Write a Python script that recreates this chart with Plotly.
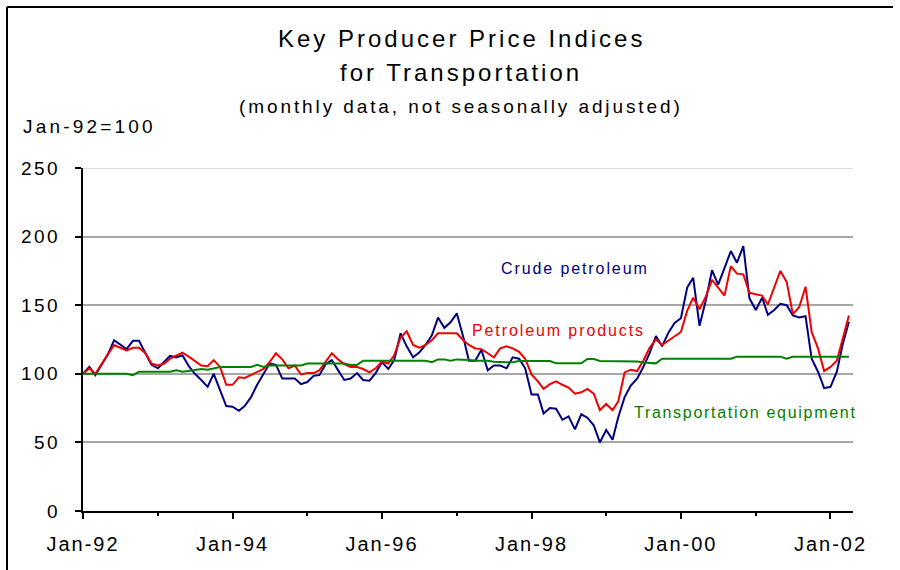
import pandas as pd
import plotly.graph_objects as go

# ---- data (index, Jan-92 = 100) ----
months = pd.date_range("1992-01-01", periods=124, freq="MS")

crude_petroleum = [
    100, 105, 99, 107, 114, 124.5, 121, 118, 124, 124, 115, 106.5,
    104, 109, 113, 112, 113.5, 105.5, 100, 95.5, 90.5, 100, 88, 76.5,
    76, 73, 76.5, 83, 92, 100, 107.5, 106.5, 96.5, 96.5, 96.5, 92.5,
    94, 98.5, 99, 107, 110, 102.5, 95.5, 96.5, 100.5, 95.5, 95, 100.5,
    108.5, 103.5, 110, 129.5, 120, 112, 115.5, 121, 128, 141, 133.5, 137.5,
    144, 127, 109.5, 109.5, 117.5, 102.5, 106, 106, 104, 112, 111, 104,
    85, 85, 71, 75, 74.5, 66.5, 69, 59.5, 70.5, 68, 62.5, 50,
    59, 52, 68.5, 83, 91.5, 96.5, 105, 115, 127.5, 120, 130, 137,
    140.5, 163, 170, 135, 153, 175.5, 165, 177, 189.5, 181, 193, 155,
    146.5, 155.5, 143, 146.5, 151, 150, 142.5, 141, 142, 111, 101.5, 89.5,
    90.5, 101.5, 121, 138,
]

petroleum_products = [
    100, 104, 100, 107, 113.5, 121, 119, 117, 119, 119, 115, 107.5,
    106, 107.5, 111, 113, 115.5, 112.5, 109.5, 106, 105.5, 110, 105, 92,
    92, 97.5, 97, 99, 101, 103.5, 108.5, 115, 110.5, 104, 106, 99.5,
    100.5, 100.5, 102.5, 108.5, 115, 110.5, 107, 105, 105, 103.5, 101, 104,
    109, 107.5, 113.5, 126.5, 131, 121, 119, 121, 124.5, 129.5, 129.5, 129.5,
    129.5, 124.5, 121, 118.5, 118, 115, 112, 118.5, 120, 118.5, 116, 111,
    99.5, 94.5, 89, 92.5, 94.5, 92, 90, 85.5, 86.5, 89, 85.5, 73.5,
    78, 73.5, 80, 101, 103, 102, 109.5, 119, 125, 121, 124, 127,
    130.5, 146, 155.5, 147, 156, 168.5, 163, 157, 178.5, 173, 172.5, 159,
    158, 157, 150.5, 163.5, 175, 167, 143.5, 148.5, 163.5, 130.5, 118.5, 102,
    105, 109.5, 126, 142.5,
]

transportation_equipment = [
    100, 100, 100, 100, 100, 100, 100, 100, 99, 101.5, 101.5, 101.5,
    101.5, 101.5, 101.5, 102.5, 101.5, 102, 102.5, 103.5, 103, 104, 105, 105,
    105, 105, 105, 105, 106.5, 105, 106, 106, 105.5, 105.5, 106, 106,
    107.5, 107.5, 107.5, 107.5, 107.5, 107.5, 107.5, 106.5, 106.5, 109.5, 109.5, 109.5,
    109.5, 109.5, 109.5, 109.5, 109.5, 109.5, 109.5, 109.5, 108.5, 110.5, 110.5, 109.5,
    110.5, 110.5, 110, 109.5, 109.5, 109.5, 108.8, 108.5, 108.5, 108.5, 109.3, 109.3,
    109.3, 109.3, 109.3, 109.3, 107.6, 107.6, 107.6, 107.6, 107.6, 110.8, 110.8, 109.3,
    109.3, 109.3, 109.3, 109.3, 109.3, 109, 108.3, 107.8, 107.6, 111, 111, 111,
    111, 111, 111, 111, 111, 111, 111, 111, 111, 112.5, 112.5, 112.5,
    112.5, 112.5, 112.5, 112.5, 112.5, 111, 112.5, 112.5, 112.5, 112.5, 112.5, 112.5,
    112.5, 112.5, 112.5, 112.5,
]

series_names = ["Crude petroleum", "Petroleum products", "Transportation equipment"]
series_colors = ["#000080", "#f00000", "#008000"]

y_tick_values = [0, 50, 100, 150, 200, 250]
x_tick_dates = ["1992-01-01", "1994-01-01", "1996-01-01",
                "1998-01-01", "2000-01-01", "2002-01-01"]
x_tick_labels = ["Jan-92", "Jan-94", "Jan-96", "Jan-98", "Jan-00", "Jan-02"]

title_lines = ["Key Producer Price Indices", "for Transportation",
               "(monthly data, not seasonally adjusted)"]
base_note = "Jan-92=100"

# ---- layout geometry (pixels) ----
W, H = 900, 570
PL, PR, PT, PB = 83, 853, 168, 511
FONT = "Liberation Sans, Arial, sans-serif"
X_RANGE = ["1992-01-01", "2002-04-21"]


def px_x(px):
    return (px - PL) / (PR - PL)


def px_y(py):
    return (PB - py) / (PB - PT)


def spaced(text, ls):
    return f'<span style="letter-spacing:{ls}px">{text}</span>'


fig = go.Figure()

for name, vals, col in zip(series_names,
                           [crude_petroleum, petroleum_products, transportation_equipment],
                           series_colors):
    fig.add_trace(go.Scatter(
        x=months, y=vals, mode="lines", name=name,
        line=dict(color=col, width=2), showlegend=False, hoverinfo="skip",
    ))

annotations = []


def note(text, x, y, size, ls, color="black", xanchor="center"):
    annotations.append(dict(
        text=spaced(text, ls), x=px_x(x), y=px_y(y), xref="paper", yref="paper",
        xanchor=xanchor, yanchor="middle", showarrow=False,
        font=dict(family=FONT, size=size, color=color),
    ))


note(title_lines[0], 461.5, 38.5, 24, 3)
note(title_lines[1], 460.5, 72, 24, 3)
note(title_lines[2], 460.5, 106.5, 19, 2.9)
note(base_note, 21, 126.5, 19, 3.2, xanchor="left")

note(series_names[0], 575.3, 268.4, 16, 1.9, series_colors[0])
note(series_names[1], 558.3, 330.4, 16, 1.9, series_colors[1])
note(series_names[2], 745.5, 412.7, 16, 1.7, series_colors[2])

shapes = [
    # lighter top gridline
    dict(type="line", xref="paper", yref="y", x0=0, x1=1, y0=250, y1=250,
         line=dict(color="#dcdcdc", width=2), layer="above"),
    # outer frame
    dict(type="line", xref="paper", yref="paper", x0=px_x(7), x1=px_x(893),
         y0=px_y(7), y1=px_y(7), line=dict(color="black", width=2)),
    dict(type="line", xref="paper", yref="paper", x0=px_x(7), x1=px_x(7),
         y0=px_y(7), y1=px_y(575), line=dict(color="black", width=2)),
]

fig.update_layout(
    width=W, height=H,
    margin=dict(l=PL, r=W - PR, t=PT, b=H - PB, pad=0),
    paper_bgcolor="white", plot_bgcolor="white",
    font=dict(family=FONT, color="black"),
    annotations=annotations, shapes=shapes,
    xaxis=dict(
        type="date", range=X_RANGE,
        tickvals=x_tick_dates, ticktext=[spaced(t, 2) for t in x_tick_labels],
        ticks="outside", ticklen=6, tickwidth=1.5, tickcolor="black",
        minor=dict(ticks="outside", ticklen=3, tickwidth=1.5, tickcolor="black",
                   dtick="M12", tick0="1993-01-01", showgrid=False),
        showline=True, linecolor="black", linewidth=2,
        showgrid=False, zeroline=False,
        tickfont=dict(family=FONT, size=20, color="black"),
        ticklabelstandoff=8,
    ),
    xaxis2=dict(
        type="date", range=X_RANGE, overlaying="x", anchor="y", side="bottom",
        tickvals=x_tick_dates, ticktext=["" for _ in x_tick_labels],
        ticks="inside", ticklen=6, tickwidth=1.5, tickcolor="black",
        minor=dict(ticks="inside", ticklen=3, tickwidth=1.5, tickcolor="black",
                   dtick="M12", tick0="1993-01-01", showgrid=False),
        showline=False, showgrid=False, zeroline=False, showticklabels=False,
    ),
    yaxis=dict(
        range=[0, 250], tickvals=y_tick_values,
        ticktext=[spaced(str(v), 2.5) for v in y_tick_values],
        ticks="outside", ticklen=6, tickwidth=1.5, tickcolor="black",
        showline=True, linecolor="black", linewidth=2,
        showgrid=True, gridcolor="#a6a6a6", gridwidth=2, zeroline=False,
        tickfont=dict(family=FONT, size=19, color="black"),
        ticklabelstandoff=11,
    ),
)

fig.write_html("out.html")
